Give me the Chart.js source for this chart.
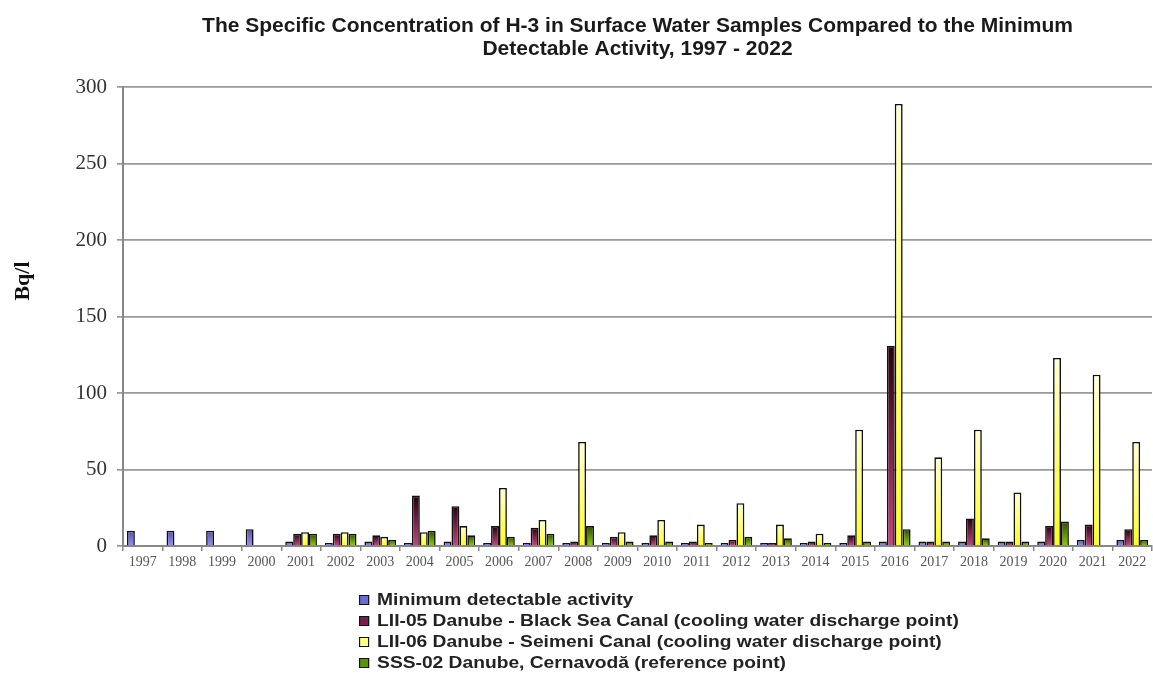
<!DOCTYPE html>
<html>
<head>
<meta charset="utf-8">
<script src="https://cdn.jsdelivr.net/npm/chart.js@4"></script>
<style>
  html, body { margin: 0; padding: 0; background: #fff; }
  #wrap { position: relative; width: 1153px; height: 673px; }
  #legend { position: absolute; left: 359px; top: 589px; font: bold 17px "Liberation Sans", Arial, sans-serif; color: #222; transform: scaleX(1.13); transform-origin: 0 0; }
  .row { height: 21px; line-height: 21px; white-space: nowrap; display: flex; align-items: center; }
  .sw { width: 7px; height: 8px; border: 1.5px solid #111; margin-right: 7px; display: inline-block; }
</style>
</head>
<body>
<div id="wrap">
  <canvas id="c" width="1153" height="673"></canvas>
  <div id="legend"></div>
</div>
<script>
const years = ["1997","1998","1999","2000","2001","2002","2003","2004","2005","2006","2007","2008","2009","2010","2011","2012","2013","2014","2015","2016","2017","2018","2019","2020","2021","2022"];
const seriesNames = [
  "Minimum detectable activity",
  "LII-05 Danube - Black Sea Canal (cooling water discharge point)",
  "LII-06 Danube - Seimeni Canal (cooling water discharge point)",
  "SSS-02 Danube, Cernavodă (reference point)"
];
const mda    = [10, 10, 10, 11, 3, 2, 3, 2, 3, 2, 2, 2, 2, 2, 2, 2, 2, 2, 2, 3, 3, 3, 3, 3, 4, 4];
const lii05  = [null, null, null, null, 8, 8, 7, 33, 26, 13, 12, 3, 6, 7, 3, 4, 2, 3, 7, 131, 3, 18, 3, 13, 14, 11];
const lii06  = [null, null, null, null, 9, 9, 6, 9, 13, 38, 17, 68, 9, 17, 14, 28, 14, 8, 76, 289, 58, 76, 35, 123, 112, 68];
const sss02  = [null, null, null, null, 8, 8, 4, 10, 7, 6, 8, 13, 3, 3, 2, 6, 5, 2, 3, 11, 3, 5, 3, 16, null, 4];
const yTicksMax = 300;
const yStep = 50;
const yTitle = "Bq/l";
const titleLines = ["The Specific Concentration of H-3 in Surface Water Samples Compared to the Minimum", "Detectable Activity, 1997 - 2022"];

const swatch = ["#6b6bd6", "#7a1f48", "#ffff80", "#5a9400"];
const gradTop = ["#5252b0", "#24000f", "#ffffd8", "#2f4a00"];
const gradBot = ["#8f8ff2", "#c4447e", "#ffff1a", "#8acc00"];

const gradientPlugin = {
  id: 'barGradients',
  beforeDatasetsDraw(chart) {
    const ctx = chart.ctx;
    chart.data.datasets.forEach((ds, i) => {
      const meta = chart.getDatasetMeta(i);
      meta.data.forEach(el => {
        if (!el || el.y == null || isNaN(el.y)) return;
        const top = Math.min(el.y, el.base), bot = Math.max(el.y, el.base);
        if (bot - top < 1) return;
        const g = ctx.createLinearGradient(0, top, 0, bot);
        g.addColorStop(0, gradTop[i]);
        g.addColorStop(1, gradBot[i]);
        el.options.backgroundColor = g;
      });
    });
  }
};

const yTitlePlugin = {
  id: 'yTitle',
  afterDraw(chart) {
    const ctx = chart.ctx;
    ctx.save();
    ctx.translate(23, 281);
    ctx.rotate(-Math.PI / 2);
    ctx.font = 'bold 22px "Liberation Serif", "Times New Roman", serif';
    ctx.fillStyle = '#111';
    ctx.textAlign = 'center';
    ctx.textBaseline = 'middle';
    ctx.fillText(yTitle, 0, 0);
    ctx.restore();
  }
};

const datasetsData = [mda, lii05, lii06, sss02];
const chart = new Chart(document.getElementById('c'), {
  type: 'bar',
  data: {
    labels: years,
    datasets: datasetsData.map((d, i) => ({
      label: seriesNames[i],
      data: d,
      backgroundColor: () => swatch[i],
      borderColor: '#111',
      borderWidth: 1.6,
      borderSkipped: 'bottom',
      categoryPercentage: 0.8,
      barPercentage: 1.0
    }))
  },
  options: {
    responsive: false,
    animation: false,
    devicePixelRatio: 1,
    layout: { padding: { left: 0, right: 1, top: 0, bottom: 97 } },
    plugins: {
      legend: { display: false },
      tooltip: { enabled: false },
      title: {
        display: true,
        fullSize: false,
        text: titleLines,
        color: '#1a1a1a',
        font: { family: '"Liberation Sans", Arial, sans-serif', size: 21, weight: 'bold', lineHeight: 1.1 },
        padding: { top: 15, bottom: 26 }
      }
    },
    scales: {
      x: {
        offset: true,
        grid: { display: true, drawOnChartArea: false, drawTicks: true, offset: true, tickLength: 5, color: '#888', lineWidth: 1.5 },
        border: { display: true, color: '#888', width: 2 },
        ticks: { color: '#555', font: { family: '"Liberation Serif", "Times New Roman", serif', size: 14 }, padding: 3, maxRotation: 0, autoSkip: false },
        afterFit(scale) { scale.height = 30; }
      },
      y: {
        min: 0,
        max: yTicksMax,
        ticks: { stepSize: yStep, color: '#333', font: { family: '"Liberation Serif", "Times New Roman", serif', size: 21 }, padding: 10 },
        grid: { color: '#999', lineWidth: 1.7, tickLength: 6, drawTicks: true },
        border: { display: true, color: '#888', width: 2 },
        title: { display: false },
        afterFit(scale) { scale.width = 123; }
      }
    }
  },
  plugins: [gradientPlugin, yTitlePlugin]
});

const leg = document.getElementById('legend');
seriesNames.forEach((n, i) => {
  const r = document.createElement('div');
  r.className = 'row';
  const s = document.createElement('span');
  s.className = 'sw';
  s.style.background = swatch[i];
  const t = document.createElement('span');
  t.textContent = n;
  r.appendChild(s); r.appendChild(t);
  leg.appendChild(r);
});
</script>
</body>
</html>
